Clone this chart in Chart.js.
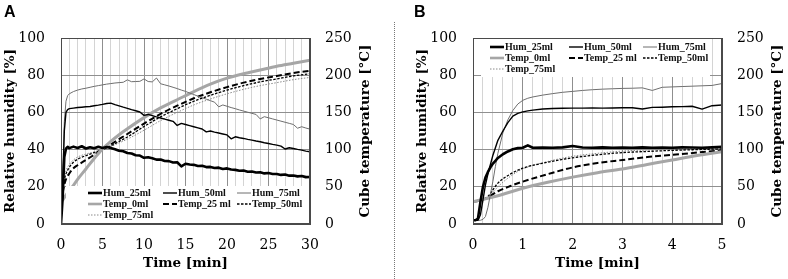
<!DOCTYPE html>
<html><head><meta charset="utf-8">
<script src="https://cdn.jsdelivr.net/npm/chart.js@4.4.1/dist/chart.umd.min.js"></script>
<style>
html,body{margin:0;padding:0;background:#fff;}
#wrap{position:relative;width:788px;height:279px;overflow:hidden;background:#fff;}
.pane{position:absolute;top:0;width:394px;height:279px;}
.pane canvas{display:block;}
.lbl{position:absolute;font:bold 16px "Liberation Sans",Arial,sans-serif;color:#000;line-height:16px;}
#sep{position:absolute;left:394px;top:22px;height:257px;border-left:1px dotted #777;}
</style></head>
<body><div id="wrap">
<div class="pane" style="left:0"><canvas id="cA" width="394" height="279"></canvas></div>
<div class="pane" style="left:394px"><canvas id="cB" width="394" height="279"></canvas></div>
<div id="sep"></div>
<div class="lbl" style="left:4px;top:4px">A</div>
<div class="lbl" style="left:414px;top:4px">B</div>
</div>
<script>
// ---------- DATA ----------
const seriesLabels = ["Hum_25ml","Hum_50ml","Hum_75ml","Temp_0ml","Temp_25 ml","Temp_50ml","Temp_75ml"];
const yLeftTicks = [0,20,40,60,80,100];
const yRightTicks = [0,50,100,150,200,250];
const xTicksA = [0,5,10,15,20,25,30];
const xTicksB = [0,1,2,3,4,5];

// Panel A (0-30 min)
const timeA_hum = [0,0.2,0.4,0.6,0.8,1,1.5,2,2.5,3,3.5,4,4.5,5,5.5,6,6.5,7,7.5,8,8.5,9,9.5,10,10.5,11,11.5,12,12.5,13,13.5,14,14.5,15,15.5,16,16.5,17,17.5,18,18.5,19,19.5,20,20.5,21,21.5,22,22.5,23,23.5,24,24.5,25,25.5,26,26.5,27,27.5,28,28.5,29,29.5,30];
const hum25A = [0,14,36,40.5,41.5,40.8,41.6,40.9,41.8,40.6,41.3,40.7,41.5,40.9,41.4,40.8,40.2,39.4,39.1,38.2,37.9,37.0,36.8,35.6,35.9,35.4,34.6,34.7,33.9,33.8,33.1,33.2,31.0,32.4,32.0,31.8,31.2,31.3,30.6,30.7,30.1,30.3,29.6,29.9,29.3,29.1,28.6,28.7,28.1,28.2,27.7,27.8,27.2,27.4,26.9,26.9,26.4,26.6,26.0,26.1,25.6,25.8,25.2,25.3];
const hum50A = [0,20,50,60,61.5,62,62.3,62.6,62.8,63.0,63.2,63.6,63.9,64.3,64.8,65.0,64.2,63.5,62.8,62.2,61.5,60.9,60.2,58.4,58.9,58.3,57.6,57.0,56.4,55.8,55.2,53.0,54.1,53.5,52.9,52.3,51.7,51.1,49.5,50.0,49.4,48.9,48.4,47.9,45.8,46.9,46.4,46.0,45.5,45.1,44.6,44.2,43.7,43.3,42.8,42.4,41.9,40.3,41.0,40.6,40.1,39.7,39.2,38.8];
const hum75A = [0,25,55,66,69,70,71.2,72.0,72.6,73.0,73.5,74.0,74.4,74.8,75.2,75.5,75.8,76.0,76.2,77.5,76.5,76.6,76.7,78.0,76.6,76.4,78.5,75.4,74.8,74.2,73.5,72.8,72.0,71.3,70.4,69.6,68.7,67.9,67.1,66.3,65.5,63.0,64.0,63.3,62.6,62.0,61.3,60.7,60.1,59.5,58.9,56.5,57.7,57.1,56.5,55.9,55.3,54.7,54.1,53.5,51.5,52.3,51.6,51.0];
const timeA_temp = [0,0.25,0.5,1,1.5,2,3,4,5,6,7,8,10,12,14,16,18,20,22,24,26,28,30];
const temp0A  = [30,33,37,45,52,60,74,88,101,111,120,128,143,156,167,178,188,196,202,207,212,216,220];
const temp25A = [30,45,57,68,75,79,86,93,100,107,114,121,135,148,159,169,177,184,190,195,199,203,206];
const temp50A = [30,50,64,76,83,87,92,96,100,105,111,117,131,144,155,165,173,180,186,191,195,199,202];
const temp75A = [30,53,68,80,86,90,94,97,100,104,109,114,126,139,150,160,168,175,181,186,190,194,197];

// Panel B (0-5 min)
const timeB_hum = [0,0.05,0.1,0.15,0.2,0.25,0.3,0.35,0.4,0.45,0.5,0.6,0.7,0.8,0.9,1.0,1.1,1.2,1.4,1.6,1.8,2.0,2.2,2.4,2.6,2.8,3.0,3.2,3.4,3.6,3.8,4.0,4.2,4.4,4.6,4.8,5.0];
const hum25B = [2,2,3,12,20,25,28,30.5,32.5,34,35.5,37.5,39,40.2,40.8,41,42.3,41,41.1,41,41.2,41.9,41.1,41.0,41.2,41.0,41.1,41.0,41.2,41.0,41.1,41.0,41.2,41.1,41.0,41.2,41.5];
const hum50B = [2,2,2,5,13,21,27,32,37,41,45,50,54.5,58,59.5,60.3,60.8,61.2,61.8,62.1,62.2,62.3,62.3,62.4,62.3,62.4,62.5,62.5,61.8,62.7,62.8,63.0,63.1,63.3,61.8,63.6,64.0];
const hum75B = [2,2,2,2,2.5,4,9,16,23,31,38,49,56,61,64.5,66.5,67.6,68.3,69.3,70.1,70.8,71.3,71.8,72.2,72.5,72.7,72.9,73.0,73.2,71.8,73.5,73.7,73.9,74.1,74.3,74.5,75.5];
const timeB_temp = [0,0.1,0.2,0.3,0.5,0.75,1,1.5,2,2.5,3,3.5,4,4.5,5];
const temp0B  = [30,31.5,33,34.5,38,43,48,56,63,69,74,80,86,92,97];
const temp25B = [30,31,33,36,44,51,57,67,76,82,86,90,93,96,99];
const temp50B = [30,31,33,37,55,67,75,83,89,93,96,97.5,99,100,101];
const temp75B = [30,30.5,32,35,50,64,74,84,91,95,98,99.5,100.5,101,102];

// ---------- STYLE ----------
const TICK_FONT = {family:'"DejaVu Serif", serif', size:14};
const TITLE_FONT = 'bold 13.5px "DejaVu Serif", serif';
const LEG_FONT = 'bold 10px "Liberation Serif", serif';
const styles = [
  {borderColor:'#000000', borderWidth:2.6, borderDash:[]},
  {borderColor:'#000000', borderWidth:1.4, borderDash:[]},
  {borderColor:'#6e6e6e', borderWidth:1, borderDash:[]},
  {borderColor:'#a6a6a6', borderWidth:3, borderDash:[]},
  {borderColor:'#000000', borderWidth:2, borderDash:[6,3]},
  {borderColor:'#000000', borderWidth:1.3, borderDash:[2.5,1.5]},
  {borderColor:'#8a8a8a', borderWidth:1, borderDash:[1.5,1.5]}
];

function pts(t, v){ return t.map((x,i)=>({x:x, y:v[i]})); }

const legendPlugin = {
  id:'customLegend',
  afterDatasetsDraw(chart, args, o){
    const ctx = chart.ctx; const b = o.box;
    ctx.save();
    ctx.fillStyle = '#fff';
    ctx.fillRect(b[0], b[1], b[2]-b[0], b[3]-b[1]);
    ctx.font = LEG_FONT; ctx.textBaseline = 'middle'; ctx.textAlign='left';
    chart.data.datasets.forEach((ds,i)=>{
      const s = o.slots[i];
      ctx.beginPath();
      ctx.strokeStyle = ds.borderColor;
      ctx.lineWidth = Math.min(ds.borderWidth, 2.6);
      ctx.setLineDash(ds.borderDash||[]);
      ctx.moveTo(s[0], s[1]); ctx.lineTo(s[0]+o.lineLen, s[1]); ctx.stroke();
      ctx.setLineDash([]);
      ctx.fillStyle = '#111';
      ctx.fillText(ds.label, s[0]+o.lineLen+1, s[1]+0.5);
    });
    ctx.restore();
  }
};
const framePlugin = {
  id:'frameTitles',
  afterDraw(chart, args, o){
    const ctx = chart.ctx; const a = chart.chartArea;
    ctx.save();
    ctx.strokeStyle = '#4a4a4a'; ctx.lineWidth = 1;
    ctx.strokeRect(Math.round(a.left)+0.5, Math.round(a.top)+0.5, Math.round(a.right-a.left)-1, Math.round(a.bottom-a.top)-1);
    ctx.fillStyle = '#000'; ctx.font = TITLE_FONT; ctx.textAlign='center'; ctx.textBaseline='middle';
    const cy = (a.top+a.bottom)/2;
    ctx.save(); ctx.translate(a.left - o.leftOff, cy); ctx.rotate(-Math.PI/2); ctx.fillText(o.yTitle,0,0); ctx.restore();
    ctx.save(); ctx.translate(a.right + o.rightOff, cy); ctx.rotate(-Math.PI/2); ctx.fillText(o.y2Title,0,0); ctx.restore();
    ctx.fillText(o.xTitle, (a.left+a.right)/2, o.xTitleY);
    ctx.restore();
  }
};

function makePanel(id, cfg){
  const series = [
    [cfg.tH, cfg.h25,'y'],[cfg.tH, cfg.h50,'y'],[cfg.tH, cfg.h75,'y'],
    [cfg.tT, cfg.t0,'y2'],[cfg.tT, cfg.t25,'y2'],[cfg.tT, cfg.t50,'y2'],[cfg.tT, cfg.t75,'y2']
  ];
  const datasets = series.map((s,i)=>Object.assign({
    label: seriesLabels[i], data: pts(s[0], s[1]), yAxisID: s[2],
    pointRadius:0, fill:false, tension:0,
    cubicInterpolationMode: s[2]==='y2' ? 'monotone' : 'default',
    borderCapStyle:'butt', borderJoinStyle:'round'
  }, styles[i]));
  return new Chart(document.getElementById(id), {
    type:'line', data:{datasets}, plugins:[legendPlugin, framePlugin],
    options:{
      responsive:false, animation:false, devicePixelRatio:1,
      layout:{padding:{top:38,left:0,right:0,bottom:0}},
      plugins:{
        legend:{display:false}, tooltip:{enabled:false},
        customLegend:{box:cfg.legBox, slots:cfg.legSlots, lineLen:14},
        frameTitles:{yTitle:'Relative humidity [%]', y2Title:'Cube temperature [°C]', xTitle:'Time [min]',
          leftOff:51, rightOff:55, xTitleY:263}
      },
      scales:{
        xMinor:{type:'linear', position:'bottom', min:0, max:cfg.xmax,
          ticks:{display:false, stepSize:cfg.minor}, grid:{color:'#d4d4d4', drawTicks:false, z:-2},
          border:{display:false}, afterFit:s=>{s.height=0;}},
        x:{type:'linear', position:'bottom', min:0, max:cfg.xmax,
          afterBuildTicks:s=>{s.ticks = cfg.xTicks.map(v=>({value:v}));},
          ticks:{font:TICK_FONT, color:'#000', padding:13, maxRotation:0, autoSkip:false},
          grid:{color:'#8f8f8f', drawTicks:false}, border:{color:'#4a4a4a'},
          afterFit:s=>{s.height=55;}},
        y:{position:'left', min:0, max:100,
          afterBuildTicks:s=>{s.ticks = yLeftTicks.map(v=>({value:v}));},
          ticks:{font:TICK_FONT, color:'#000', padding:16},
          grid:{color:'#8f8f8f', drawTicks:false}, border:{color:'#4a4a4a'},
          afterFit:s=>{s.width=cfg.plotLeft;}},
        y2:{position:'right', min:0, max:250,
          afterBuildTicks:s=>{s.ticks = yRightTicks.map(v=>({value:v}));},
          ticks:{font:TICK_FONT, color:'#000', padding:15},
          grid:{display:false, drawTicks:false}, border:{color:'#4a4a4a'},
          afterFit:s=>{s.width=394-cfg.plotRight;}}
      }
    }
  });
}

makePanel('cA', {xmax:30, minor:1, xTicks:xTicksA, plotLeft:61, plotRight:310,
  tH:timeA_hum, h25:hum25A, h50:hum50A, h75:hum75A,
  tT:timeA_temp, t0:temp0A, t25:temp25A, t50:temp50A, t75:temp75A,
  legBox:[66,186,309,223],
  legSlots:[[88,193],[163,193],[237,193],[88,204],[163,204],[237,204],[88,215]]});
makePanel('cB', {xmax:5, minor:0.2, xTicks:xTicksB, plotLeft:79, plotRight:328,
  tH:timeB_hum, h25:hum25B, h50:hum50B, h75:hum75B,
  tT:timeB_temp, t0:temp0B, t25:temp25B, t50:temp50B, t75:temp75B,
  legBox:[87,39,316,77],
  legSlots:[[96,47],[175,47],[249,47],[96,58],[175,58],[249,58],[96,69]]});
</script>
</body></html>
